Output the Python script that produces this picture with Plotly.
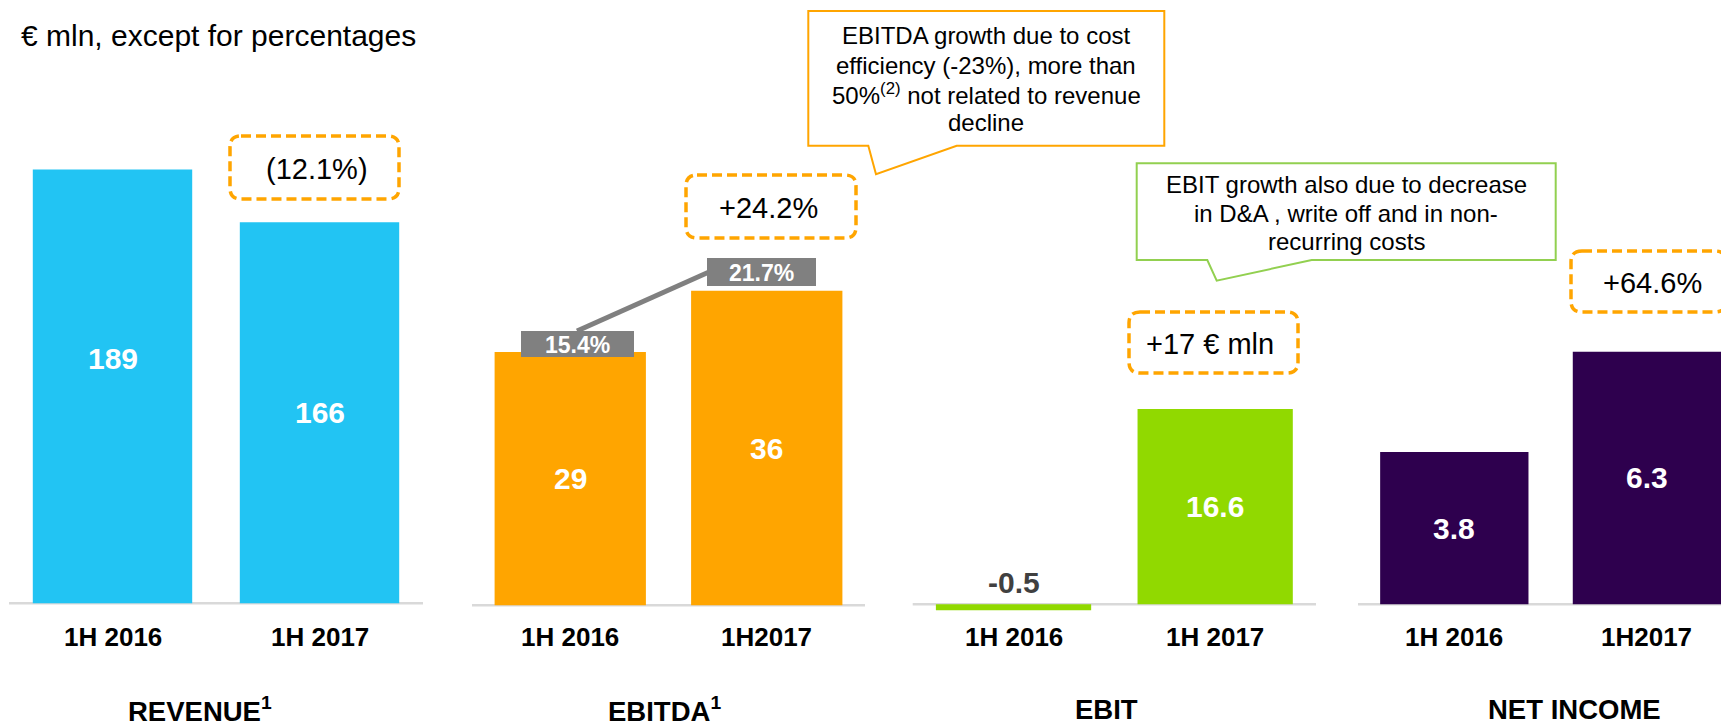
import plotly.graph_objects as go

# ---------------- data ----------------
REV_CATS = ["1H 2016", "1H 2017"]
REVENUE = [189, 166]
EBITDA_CATS = ["1H 2016", "1H2017"]
EBITDA = [29, 36]
EBITDA_MARGIN = ["15.4%", "21.7%"]
EBIT_CATS = ["1H 2016", "1H 2017"]
EBIT = [-0.5, 16.6]
NI_CATS = ["1H 2016", "1H2017"]
NET_INCOME = [3.8, 6.3]
PANEL_TITLES = ["REVENUE<sup>1</sup>", "EBITDA<sup>1</sup>", "EBIT", "NET INCOME"]
GROWTH = ["(12.1%)", "+24.2%", "+17 € mln", "+64.6%"]
VALUE_LABELS = [["189", "166"], ["29", "36"], ["-0.5", "16.6"], ["3.8", "6.3"]]
EBITDA_NOTE = ["EBITDA growth due to cost", "efficiency (-23%), more than",
               "50%<sup>(2)</sup> not related to revenue", "decline"]
EBIT_NOTE = ["EBIT growth also due to decrease", "in D&A , write off and in non-",
             "recurring costs"]

# ---------------- geometry helpers ----------------
OFF = 8  # the page body has an 8px margin
W, H = 1729 - OFF, 726 - OFF


def X(px):
    return (px - OFF) / W


def Y(py):
    return 1 - (py - OFF) / H


FONT = "Liberation Sans, Arial, sans-serif"
C_REV = "#22C4F3"
C_EBITDA = "#FFA500"
C_EBIT = "#91D900"
C_NI = "#2E004E"
C_GRID = "#D9D9D9"
C_DASH = "#FFA500"
C_GREY = "#808080"

PY_TOP, PY_BOT = 80, 660
panels = [
    # cats, values, color, x-domain px, x-range, zero px, px/unit
    (REV_CATS, REVENUE, C_REV, (9, 423), (-0.5, 1.5), 603.3, 2.295),
    (EBITDA_CATS, EBITDA, C_EBITDA, (472, 865), (-0.5, 1.5), 605.3, 8.735),
    (EBIT_CATS, EBIT, C_EBIT, (912.7, 1316), (-0.5, 1.5), 604.3, 11.77),
    (NI_CATS, NET_INCOME, C_NI, (1358, 1729), (-0.5, 1.426), 604.3, 40.1),
]

fig = go.Figure()
layout = dict(
    width=W, height=H, margin=dict(l=0, r=0, t=0, b=0),
    paper_bgcolor="white", plot_bgcolor="rgba(0,0,0,0)",
    showlegend=False, font=dict(family=FONT, color="black"),
)
annotations = []
shapes = []

for i, (cats, vals, col, xd, xr, zero, ppu) in enumerate(panels):
    k = "" if i == 0 else str(i + 1)
    fig.add_trace(go.Bar(x=cats, y=vals, marker=dict(color=col, line=dict(width=0)),
                         width=0.77, xaxis="x" + k, yaxis="y" + k,
                         hoverinfo="x+y"))
    layout["xaxis" + k] = dict(domain=[X(xd[0]), min(1.0, X(xd[1]))], range=list(xr),
                               type="category", visible=False, anchor="y" + k,
                               fixedrange=True)
    layout["yaxis" + k] = dict(domain=[Y(PY_BOT), Y(PY_TOP)],
                               range=[-(PY_BOT - zero) / ppu, (zero - PY_TOP) / ppu],
                               visible=False, anchor="x" + k, fixedrange=True)
    # baseline at zero
    shapes.append(dict(type="line", xref="x" + k + " domain", yref="y" + k,
                       x0=0, x1=1, y0=0, y1=0, layer="below",
                       line=dict(color=C_GRID, width=2.5)))
    # category labels
    for c in cats:
        annotations.append(dict(x=c, xref="x" + k, y=Y(636.5), yref="paper",
                                text="<b>%s</b>" % c, showarrow=False,
                                font=dict(size=26, color="black"),
                                xanchor="center", yanchor="middle"))
    # value labels
    for j, (c, v) in enumerate(zip(cats, vals)):
        if v >= 0:
            ys = 28 if (i == 0 and j == 0) else 0
            annotations.append(dict(x=c, xref="x" + k, y=v / 2, yref="y" + k,
                                    yshift=ys, text="<b>%s</b>" % VALUE_LABELS[i][j],
                                    showarrow=False, font=dict(size=30, color="white"),
                                    xanchor="center", yanchor="middle"))
        else:
            annotations.append(dict(x=c, xref="x" + k, y=0, yref="y" + k,
                                    yshift=21.5, text="<b>%s</b>" % VALUE_LABELS[i][j],
                                    showarrow=False, font=dict(size=30, color="#404040"),
                                    xanchor="center", yanchor="middle"))

# panel titles
for t, cx in zip(PANEL_TITLES, [200, 664, 1106, 1574]):
    annotations.append(dict(x=X(cx), y=Y(709), xref="paper", yref="paper", text="<b>%s</b>" % t,
                            showarrow=False, font=dict(size=27.5, color="black"),
                            xanchor="center", yanchor="middle"))

# unit note
annotations.append(dict(x=X(19), y=Y(36), xref="paper", yref="paper",
                        text="€ mln, except for percentages", showarrow=False,
                        font=dict(size=30, color="black"), xanchor="left", yanchor="middle"))


def rounded_rect(x0, y0, x1, y1, r):
    rx, ry = r / W, r / H
    a0, b0, a1, b1 = X(x0), Y(y0), X(x1), Y(y1)
    return ("M {x0r},{b0} L {x1r},{b0} Q {a1},{b0} {a1},{b0r} L {a1},{b1r} "
            "Q {a1},{b1} {x1r},{b1} L {x0r},{b1} Q {a0},{b1} {a0},{b1r} "
            "L {a0},{b0r} Q {a0},{b0} {x0r},{b0} Z").format(
        x0r=a0 + rx, x1r=a1 - rx, a0=a0, a1=a1, b0=b0, b1=b1,
        b0r=b0 - ry, b1r=b1 + ry)


# dashed growth boxes
growth_boxes = [(230, 136, 399, 199), (686, 175, 856, 238),
                (1129, 312, 1298, 373), (1571, 251, 1726, 312)]
growth_text_c = [(316.5, 169.5), (768, 208), (1210, 344), (1652, 283)]
for (x0, y0, x1, y1), (tx, ty), g in zip(growth_boxes, growth_text_c, GROWTH):
    shapes.append(dict(type="path", xref="paper", yref="paper",
                       path=rounded_rect(x0, y0, x1, y1, 11),
                       line=dict(color=C_DASH, width=3.5, dash="10px,5px")))
    annotations.append(dict(x=X(tx), y=Y(ty), xref="paper", yref="paper", text=g,
                            showarrow=False, font=dict(size=29, color="black"),
                            xanchor="center", yanchor="middle"))

# EBITDA margin boxes + connector
shapes.append(dict(type="line", xref="paper", yref="paper",
                   x0=X(577), y0=Y(331), x1=X(709), y1=Y(272),
                   line=dict(color=C_GREY, width=5)))
margin_boxes = [(521, 331, 634, 357), (707, 258, 816, 286)]
for (x0, y0, x1, y1), m in zip(margin_boxes, EBITDA_MARGIN):
    shapes.append(dict(type="rect", xref="paper", yref="paper",
                       x0=X(x0), x1=X(x1), y0=Y(y0), y1=Y(y1),
                       fillcolor=C_GREY, line=dict(width=0)))
    annotations.append(dict(x=X((x0 + x1) / 2), y=Y((y0 + y1) / 2 + 1), xref="paper", yref="paper",
                            text="<b>%s</b>" % m, showarrow=False,
                            font=dict(size=23, color="white"),
                            xanchor="center", yanchor="middle"))


def callout(x0, y0, x1, y1, tl, tr, tip):
    pts = [(x0, y0), (x1, y0), (x1, y1), (tr, y1), tip, (tl, y1), (x0, y1)]
    return "M " + " L ".join("%f,%f" % (X(a), Y(b)) for a, b in pts) + " Z"


shapes.append(dict(type="path", xref="paper", yref="paper",
                   path=callout(808.3, 11, 1164.3, 145.7, 868.3, 956.7, (876, 174.3)),
                   fillcolor="white", line=dict(color=C_EBITDA, width=2)))
for line, ly in zip(EBITDA_NOTE, [36, 65, 94, 122.5]):
    annotations.append(dict(x=X(986.5), y=Y(ly), xref="paper", yref="paper", text=line,
                            showarrow=False, font=dict(size=24, color="black"),
                            xanchor="center", yanchor="middle"))

shapes.append(dict(type="path", xref="paper", yref="paper",
                   path=callout(1136.7, 163.3, 1555.7, 260, 1207.3, 1311.7, (1216.7, 280.7)),
                   fillcolor="white", line=dict(color="#92D050", width=2)))
for line, ly in zip(EBIT_NOTE, [184.5, 213, 241.5]):
    annotations.append(dict(x=X(1346), y=Y(ly), xref="paper", yref="paper", text=line,
                            showarrow=False, font=dict(size=24, color="black"),
                            xanchor="center", yanchor="middle"))

layout["annotations"] = annotations
layout["shapes"] = shapes
fig.update_layout(**layout)
fig.write_html("out.html")
